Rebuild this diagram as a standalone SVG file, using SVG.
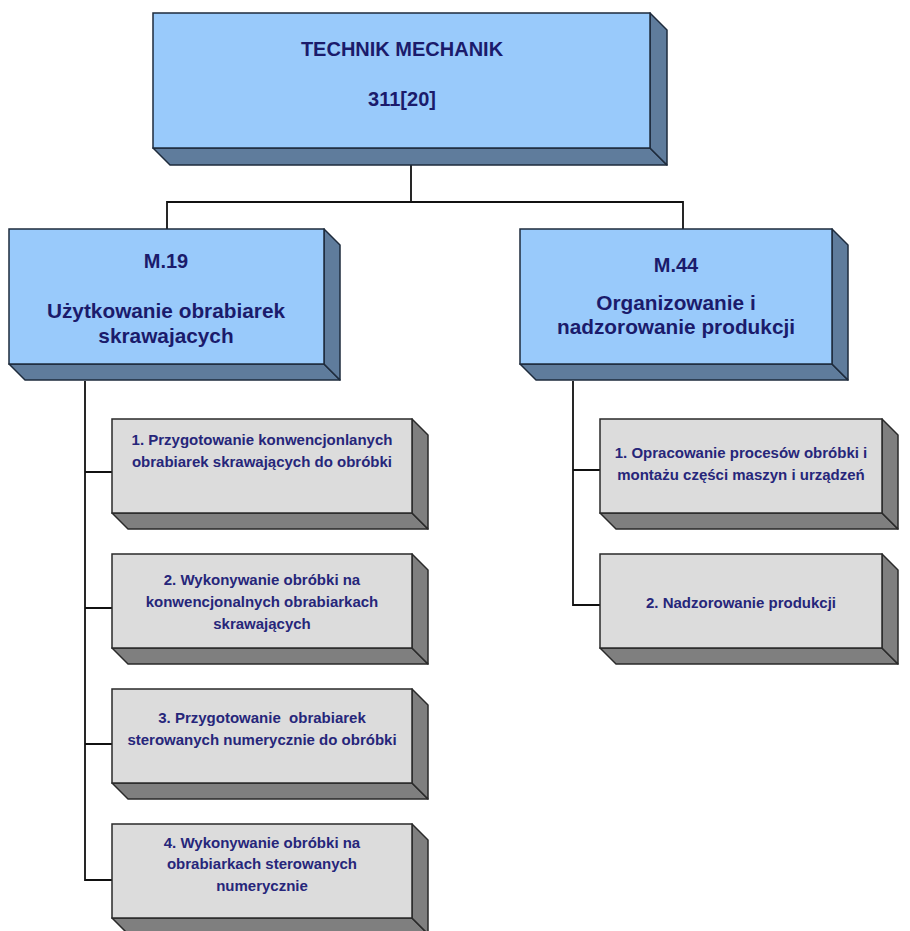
<svg xmlns="http://www.w3.org/2000/svg" width="910" height="931" viewBox="0 0 910 931">
<style>
.fb{fill:#99CAFB;stroke:#1E2B3C;stroke-width:1.5}
.sb{fill:#5F7C9C;stroke:#1E2B3C;stroke-width:1.5;stroke-linejoin:round}
.fg{fill:#DCDCDC;stroke:#2A2A2A;stroke-width:1.5}
.sg{fill:#7F7F7F;stroke:#2A2A2A;stroke-width:1.5;stroke-linejoin:round}
.h{font-family:"Liberation Sans",Arial,sans-serif;font-weight:bold;font-size:20px;fill:#1B1B6B;text-anchor:middle}
.m{font-size:20.8px}
.t{font-family:"Liberation Sans",Arial,sans-serif;font-weight:bold;font-size:15px;fill:#26267A;text-anchor:middle}
.c{fill:none;stroke:#111;stroke-width:1.8}
</style>
<rect width="910" height="931" fill="#FFFFFF"/>
<g id="connectors">
<path class="c" d="M411 165V202M167 229V202H683V229"/>
<path class="c" d="M85 381V880H112M85 472H112M85 608H112M85 744H112"/>
<path class="c" d="M573 381V605H600M573 470H600"/>
</g>
<g id="top">
<polygon class="sb" points="153,148 650,148 667,165 170,165"/>
<polygon class="sb" points="650,13 667,30 667,165 650,148"/>
<rect class="fb" x="153" y="13" width="497" height="135"/>
<text class="h" x="402" y="56">TECHNIK MECHANIK</text>
<text class="h" x="402" y="106">311[20]</text>
</g>
<g id="m19">
<polygon class="sb" points="9,364 324,364 340,380 25,380"/>
<polygon class="sb" points="324,229 340,245 340,380 324,364"/>
<rect class="fb" x="9" y="229" width="315" height="135"/>
<text class="h" x="166" y="268">M.19</text>
<text class="h m" x="166" y="318">Użytkowanie obrabiarek</text>
<text class="h m" x="166" y="343">skrawajacych</text>
</g>
<g id="m44">
<polygon class="sb" points="520,364 832,364 848,380 536,380"/>
<polygon class="sb" points="832,229 848,245 848,380 832,364"/>
<rect class="fb" x="520" y="229" width="312" height="135"/>
<text class="h" x="676" y="272">M.44</text>
<text class="h m" x="676" y="310">Organizowanie i</text>
<text class="h m" x="676" y="334">nadzorowanie produkcji</text>
</g>
<g id="l1">
<polygon class="sg" points="112,513 412,513 428,529 128,529"/>
<polygon class="sg" points="412,419 428,435 428,529 412,513"/>
<rect class="fg" x="112" y="419" width="300" height="94"/>
<text class="t" x="262" y="445">1. Przygotowanie konwencjonlanych</text>
<text class="t" x="262" y="467">obrabiarek skrawających do obróbki</text>
</g>
<g id="l2">
<polygon class="sg" points="112,648 412,648 428,664 128,664"/>
<polygon class="sg" points="412,554 428,570 428,664 412,648"/>
<rect class="fg" x="112" y="554" width="300" height="94"/>
<text class="t" x="262" y="585">2. Wykonywanie obróbki na</text>
<text class="t" x="262" y="607">konwencjonalnych obrabiarkach</text>
<text class="t" x="262" y="629">skrawających</text>
</g>
<g id="l3">
<polygon class="sg" points="112,783 412,783 428,799 128,799"/>
<polygon class="sg" points="412,689 428,705 428,799 412,783"/>
<rect class="fg" x="112" y="689" width="300" height="94"/>
<text class="t" x="262" y="723" xml:space="preserve">3. Przygotowanie  obrabiarek</text>
<text class="t" x="262" y="745">sterowanych numerycznie do obróbki</text>
</g>
<g id="l4">
<polygon class="sg" points="112,918 412,918 428,934 128,934"/>
<polygon class="sg" points="412,824 428,840 428,934 412,918"/>
<rect class="fg" x="112" y="824" width="300" height="94"/>
<text class="t" x="262" y="848">4. Wykonywanie obróbki na</text>
<text class="t" x="262" y="869">obrabiarkach sterowanych</text>
<text class="t" x="262" y="891">numerycznie</text>
</g>
<g id="r1">
<polygon class="sg" points="600,513 882,513 898,529 616,529"/>
<polygon class="sg" points="882,419 898,435 898,529 882,513"/>
<rect class="fg" x="600" y="419" width="282" height="94"/>
<text class="t" x="741" y="458">1. Opracowanie procesów obróbki i</text>
<text class="t" x="741" y="480">montażu części maszyn i urządzeń</text>
</g>
<g id="r2">
<polygon class="sg" points="600,648 882,648 898,664 616,664"/>
<polygon class="sg" points="882,554 898,570 898,664 882,648"/>
<rect class="fg" x="600" y="554" width="282" height="94"/>
<text class="t" x="741" y="608">2. Nadzorowanie produkcji</text>
</g>
</svg>
